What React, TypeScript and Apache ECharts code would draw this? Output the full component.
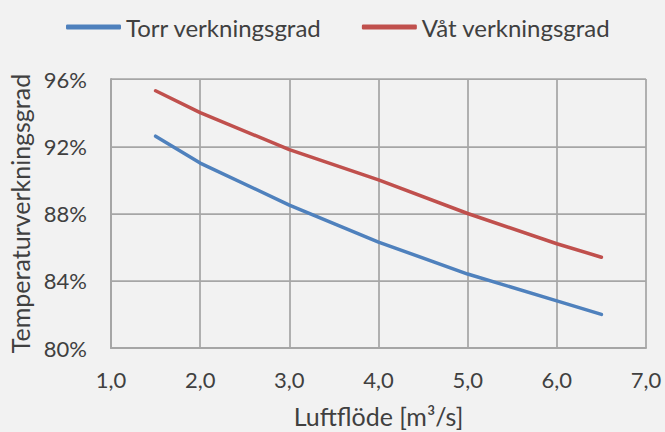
import React, { useEffect, useRef } from "react";
import * as echarts from "echarts";

const airflow = [1.5, 2, 3, 4, 5, 6, 6.5];
const torrValues = [92.6, 91.0, 88.5, 86.3, 84.4, 82.8, 82.0];
const vatValues = [95.3, 94.0, 91.8, 90.0, 88.0, 86.2, 85.4];
const seriesNames = ["Torr verkningsgrad", "Våt verkningsgrad"];
const xAxisName = "Luftflöde [m³/s]";
const yAxisName = "Temperaturverkningsgrad";

const FONT = "Lato, 'Noto Sans', sans-serif";
const TEXT = "#404040";
const GRIDC = "#a6a6a6";

export default function App() {
  const ref = useRef<HTMLDivElement>(null);
  useEffect(() => {
    document.body.style.margin = "0";
    if (!ref.current) return;
    const chart = echarts.init(ref.current, null, { renderer: "svg" });
    const toPairs = (vals: number[]) => airflow.map((x, i) => [x, vals[i]]);
    chart.setOption({
      animation: false,
      backgroundColor: "#f2f2f2",
      textStyle: { fontFamily: FONT },
      legend: {
        left: 61,
        top: 10,
        itemWidth: 55,
        itemHeight: 5,
        itemGap: 40,
        icon: "roundRect",
        textStyle: { fontSize: 24, color: TEXT, fontFamily: FONT },
        data: seriesNames,
      },
      grid: {
        left: 111,
        right: 19,
        top: 79,
        bottom: 84,
        outerBoundsMode: "none",
      },
      xAxis: {
        type: "value",
        min: 1,
        max: 7,
        interval: 1,
        name: xAxisName,
        nameLocation: "middle",
        nameGap: 55,
        nameTextStyle: { fontSize: 25, color: TEXT, fontFamily: FONT },
        axisLine: { show: true, lineStyle: { color: GRIDC, width: 2 } },
        axisTick: { show: false },
        splitLine: { show: true, lineStyle: { color: GRIDC, width: 1.75 } },
        axisLabel: {
          margin: 20,
          fontSize: 22,
          color: TEXT,
          fontFamily: FONT,
          formatter: (v: number) => v.toFixed(1).replace(".", ","),
        },
      },
      yAxis: {
        type: "value",
        min: 80,
        max: 96,
        interval: 4,
        name: yAxisName,
        nameLocation: "middle",
        nameGap: 78,
        nameTextStyle: { fontSize: 25, color: TEXT, fontFamily: FONT },
        axisLine: { show: true, lineStyle: { color: GRIDC, width: 2 } },
        axisTick: { show: false },
        splitLine: { show: true, lineStyle: { color: GRIDC, width: 1.75 } },
        axisLabel: {
          margin: 24,
          fontSize: 22,
          color: TEXT,
          fontFamily: FONT,
          formatter: "{value}%",
        },
      },
      series: [
        {
          name: seriesNames[0],
          type: "line",
          data: toPairs(torrValues),
          symbol: "none",
          color: "#4f81bd",
          lineStyle: { width: 3.5, color: "#4f81bd", cap: "round", join: "round" },
        },
        {
          name: seriesNames[1],
          type: "line",
          data: toPairs(vatValues),
          symbol: "none",
          color: "#c0504d",
          lineStyle: { width: 3.5, color: "#c0504d", cap: "round", join: "round" },
        },
      ],
    });
    return () => chart.dispose();
  }, []);
  return <div ref={ref} style={{ width: 665, height: 432 }} />;
}
